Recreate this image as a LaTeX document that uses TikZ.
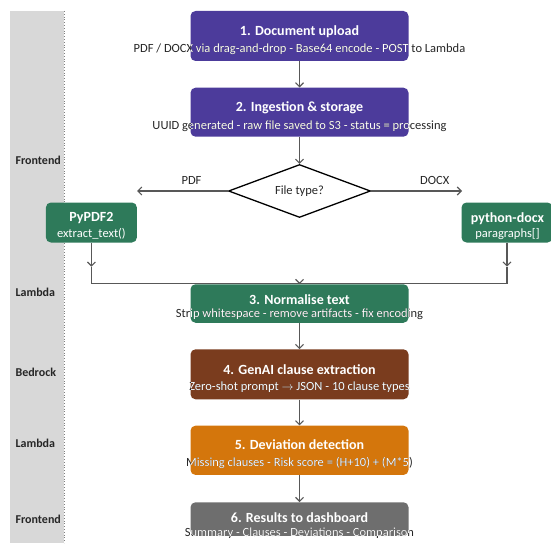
\documentclass[tikz,border=0pt]{standalone}
\usepackage{fontspec}
\setmainfont{Carlito}
\usetikzlibrary{shapes.geometric,arrows.meta}

\definecolor{lanegray}{RGB}{216,216,216}
\definecolor{inkdark}{RGB}{38,38,38}
\definecolor{arrgray}{RGB}{88,88,88}
\definecolor{uploadpurple}{RGB}{76,59,155}
\definecolor{lambdagreen}{RGB}{46,122,90}
\definecolor{bedrockbrown}{RGB}{122,60,30}
\definecolor{deviorange}{RGB}{212,118,12}
\definecolor{resultgray}{RGB}{110,110,110}

\tikzset{
  stepbox/.style={rounded corners=5pt, inner sep=0pt, minimum width=218pt},
  toolbox/.style={rounded corners=5pt, inner sep=0pt, fill=lambdagreen, minimum width=91pt, minimum height=40pt},
  steptitle/.style={text=white, font=\bfseries\fontsize{14}{16}\selectfont},
  subline/.style={font=\fontsize{12.5}{14}\selectfont},
  lanelabel/.style={anchor=west, text=inkdark, font=\bfseries\fontsize{12}{14}\selectfont},
  arr/.style={-{Straight Barb[length=4pt,width=8pt]}, draw=arrgray, line width=1.1pt},
  plainline/.style={draw=arrgray, line width=1.1pt},
}

% subtitle: dark outside the box, white inside it
\newcommand{\subtext}[4]{%
  \node[subline, text=inkdark] (#1) at (299.5,#3) {#4};
  \begin{scope}
    \clip[rounded corners=5pt] (#2.south west) rectangle (#2.north east);
    \node[subline, text=white] (#1w) at (#1) {#4};
  \end{scope}}

\begin{document}
\begin{tikzpicture}[x=1pt,y=-1pt]
    \clip (0,0) rectangle (551,543);

    % Lane
    \fill[lanegray] (10,11) rectangle (64,543);
    \draw[gray, dotted, line width=0.8pt] (64,11) -- (64,543);
    \node[lanelabel] (lane1) at (12,160) {Frontend};
    \node[lanelabel] (lane2) at (12,292.3) {Lambda};
    \node[lanelabel] (lane3) at (12,372.3) {Bedrock};
    \node[lanelabel] (lane4) at (12,443.7) {Lambda};
    \node[lanelabel] (lane5) at (12,519.3) {Frontend};

    % Nodes
    \node[stepbox, fill=uploadpurple, minimum height=50pt] (b1) at (299.5,36) {};
    \node[stepbox, fill=uploadpurple, minimum height=49pt] (b2) at (299.5,112.2) {};
    \node[draw=black, line width=1.3pt, diamond, aspect=2.68, minimum width=142pt, minimum height=53pt, inner sep=0pt] (dec) at (299.5,191) {};
    \node[subline, text=inkdark] (dectxt) at (dec.center) {File type?};
    \node[toolbox] (pypdf) at (91.4,222.5) {};
    \node[toolbox] (pydocx) at (507,222.5) {};
    \node[stepbox, fill=lambdagreen, minimum height=38.5pt] (b3) at (299.5,303.5) {};
    \node[stepbox, fill=bedrockbrown, minimum height=50pt] (b4) at (299.5,374.3) {};
    \node[stepbox, fill=deviorange, minimum height=49.3pt] (b5) at (299.5,450.3) {};
    \node[stepbox, fill=resultgray, minimum height=33.5pt] (b6) at (299.5,519) {};

    % Texts
    \node[steptitle] (t1) at (299.5,31.7) {1. Document upload};
    \subtext{s1}{b1}{49.3}{PDF / DOCX via drag-and-drop - Base64 encode - POST to Lambda}
    \node[steptitle] (t2) at (299.5,108) {2. Ingestion \& storage};
    \subtext{s2}{b2}{126}{UUID generated - raw file saved to S3 - status = processing}
    \node[steptitle] (tpdf) at (91.4,218.3) {PyPDF2};
    \node[subline, text=white] (spdf) at (91.4,234) {extract\_text()};
    \node[steptitle] (tdocx) at (507.5,218.3) {python-docx};
    \node[subline, text=white] (sdocx) at (507.5,234) {paragraphs[]};
    \node[steptitle] (t3) at (299.5,299.3) {3. Normalise text};
    \subtext{s3}{b3}{314.3}{Strip whitespace - remove artifacts - fix encoding}
    \node[steptitle] (t4) at (299.5,370) {4. GenAI clause extraction};
    \subtext{s4}{b4}{387.3}{Zero-shot prompt \(\rightarrow\) JSON - 10 clause types}
    \node[steptitle] (t5) at (299.5,445) {5. Deviation detection};
    \subtext{s5}{b5}{463.3}{Missing clauses - Risk score = (H+10) + (M*5)}
    \node[steptitle] (t6) at (299.5,517.7) {6. Results to dashboard};
    \subtext{s6}{b6}{533.3}{Summary - Clauses - Deviations - Comparison}

    % Arrows
    \coordinate (pdfend) at (137,191);
    \coordinate (docxend) at (462,191);
    \coordinate (pdfarr) at (91.4,266.7);
    \coordinate (pdfcorner) at (91.4,283.3);
    \coordinate (docxarr) at (507,266.7);
    \coordinate (docxcorner) at (507,283.3);
    \coordinate (merge) at (299.5,283.3);
    \draw[arr] (b1) -- (b2);
    \draw[arr] (b2) -- (dec.north);
    \draw[arr] (dec.west) -- (pdfend) node[pos=0.4, above=3pt, subline, text=inkdark] (lpdf) {PDF};
    \draw[arr] (dec.east) -- (docxend) node[pos=0.7, above=3pt, subline, text=inkdark] (ldocx) {DOCX};
    \draw[arr] (pypdf) -- (pdfarr);
    \draw[arr] (pydocx) -- (docxarr);
    \draw[plainline] (pdfarr) -- (pdfcorner) -- (docxcorner) -- (docxarr);
    \draw[arr] (merge) -- (b3.north);
    \draw[arr] (b3) -- (b4);
    \draw[arr] (b4) -- (b5);
    \draw[arr] (b5) -- (b6);
\end{tikzpicture}
\end{document}
